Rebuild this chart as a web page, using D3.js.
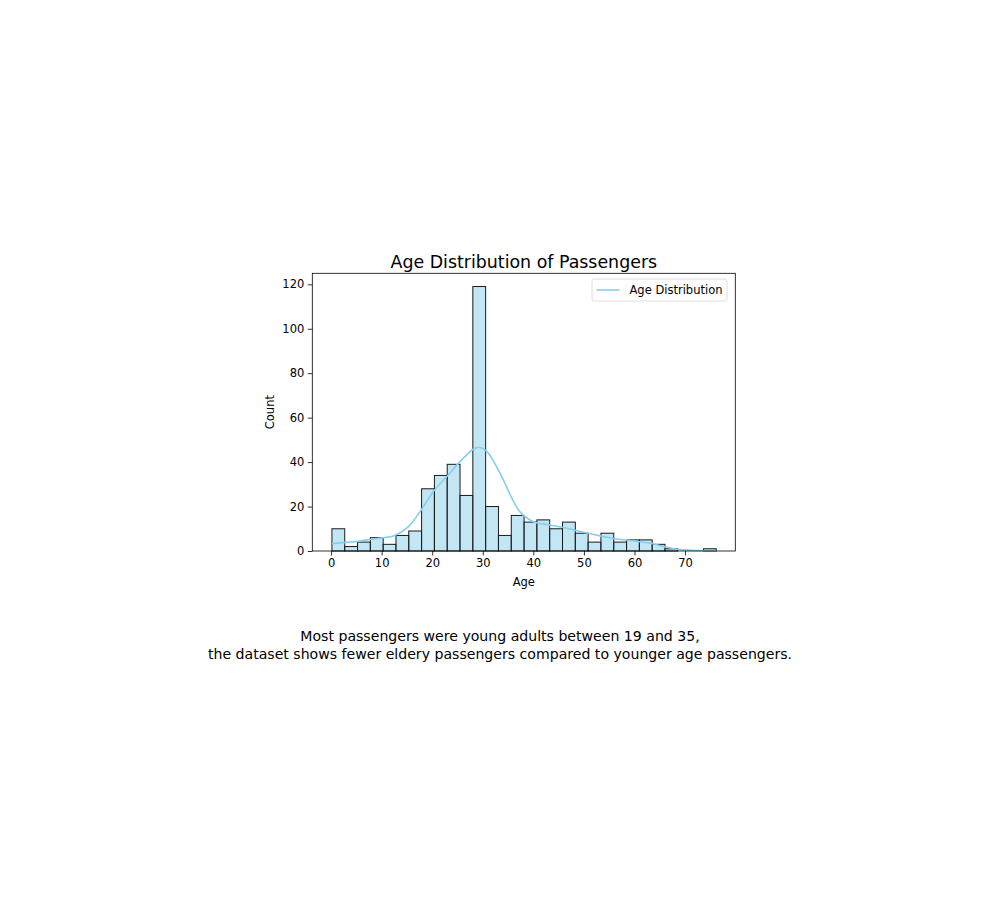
<!DOCTYPE html>
<html>
<head>
<meta charset="utf-8">
<script src="https://cdn.jsdelivr.net/npm/d3@7"></script>
<style>
  html, body { margin: 0; padding: 0; background: #fff; }
  svg { display: block; font-family: "DejaVu Sans", sans-serif; }
</style>
</head>
<body>
<svg id="chart" width="1000" height="914"></svg>
<script>
// ---- data ----
const binStart = 0.17;
const binWidth = 2.533;
const binCounts = [10, 2, 4, 6, 3, 7, 9, 28, 34, 39, 25, 119, 20, 7, 16,
                   13, 14, 10, 13, 8, 4, 8, 4, 5, 5, 3, 1, 0, 0, 1];
const kdeAge = [0.17, 2.8, 4.7, 7.1, 9.4, 12.6, 15.3, 17.6, 20.2, 22.9, 25.5, 28.1, 29.3,
                30.8, 33.4, 36.1, 37.4, 40, 43.3, 46.6, 49.9, 53.2, 56.5, 59.8, 63.1,
                66.4, 69.7, 73, 76.2];
const kdeCount = [3.3, 3.9, 4.2, 5.0, 5.7, 7.0, 11.0, 17.7, 26.7, 33.5, 40.2, 45.8, 46.7,
                  44.8, 35, 22.2, 17.5, 13.2, 11.7, 10.2, 8.4, 6.8, 5.4, 4.6, 3.5,
                  1.7, 0.5, 0.2, 0.1];
const xTicks = [0, 10, 20, 30, 40, 50, 60, 70];
const yTicks = [0, 20, 40, 60, 80, 100, 120];
const titleText = "Age Distribution of Passengers";
const xLabel = "Age";
const yLabel = "Count";
const legendLabel = "Age Distribution";
const captionLines = ["Most passengers were young adults between 19 and 35,",
                      "the dataset shows fewer eldery passengers compared to younger age passengers."];

// ---- layout ----
const plot = { left: 312.3, right: 735.3, top: 273.3, bottom: 551 };
const svg = d3.select("#chart");

const x = d3.scaleLinear().domain([-3.71, 79.93]).range([plot.left, plot.right]);
const y = d3.scaleLinear().domain([0, 124.95]).range([plot.bottom, plot.top]);

const bins = binCounts.map((c, i) => ({ x0: binStart + i * binWidth, x1: binStart + (i + 1) * binWidth, c }));

// bars
svg.append("g").selectAll("rect").data(bins.filter(d => d.c > 0)).join("rect")
  .attr("x", d => x(d.x0))
  .attr("width", d => x(d.x1) - x(d.x0))
  .attr("y", d => y(d.c))
  .attr("height", d => y(0) - y(d.c))
  .attr("fill", "rgba(135,206,235,0.5)")
  .attr("stroke", "#1a1a1a")
  .attr("stroke-width", 1);

// kde line
const kdePts = kdeAge.map((a, i) => [a, kdeCount[i]]);
svg.append("path")
  .datum(kdePts)
  .attr("fill", "none")
  .attr("stroke", "#87CEEB")
  .attr("stroke-width", 1.6)
  .attr("d", d3.line().x(d => x(d[0])).y(d => y(d[1])).curve(d3.curveCatmullRom.alpha(0.5)));

// axes
const fs = 11.5;
const xAxis = svg.append("g").attr("transform", `translate(0,${plot.bottom})`)
  .call(d3.axisBottom(x).tickValues(xTicks).tickSize(4.5).tickPadding(3.5).tickSizeOuter(0));
const yAxis = svg.append("g").attr("transform", `translate(${plot.left},0)`)
  .call(d3.axisLeft(y).tickValues(yTicks).tickSize(4.5).tickPadding(3.5).tickSizeOuter(0));
[xAxis, yAxis].forEach(g => {
  g.select(".domain").remove();
  g.selectAll(".tick line").attr("stroke", "#000").attr("stroke-width", 0.8);
  g.selectAll(".tick text").attr("font-size", fs).attr("fill", "#000")
    .attr("font-family", "DejaVu Sans, sans-serif");
});

// frame
svg.append("rect")
  .attr("x", plot.left).attr("y", plot.top)
  .attr("width", plot.right - plot.left).attr("height", plot.bottom - plot.top)
  .attr("fill", "none").attr("stroke", "#000").attr("stroke-width", 0.8);

// axis labels
svg.append("text").attr("x", (plot.left + plot.right) / 2).attr("y", 586)
  .attr("text-anchor", "middle").attr("font-size", fs).text(xLabel);
svg.append("text").attr("transform", `translate(274,${(plot.top + plot.bottom) / 2}) rotate(-90)`)
  .attr("text-anchor", "middle").attr("font-size", fs).text(yLabel);

// title
svg.append("text").attr("x", (plot.left + plot.right) / 2).attr("y", 267.5)
  .attr("text-anchor", "middle").attr("font-size", 17.4).text(titleText);

// legend
const lg = svg.append("g");
lg.append("rect").attr("x", 592).attr("y", 279).attr("width", 135).attr("height", 22)
  .attr("rx", 2.5).attr("fill", "#fff").attr("fill-opacity", 0.8)
  .attr("stroke", "#d6d6d6").attr("stroke-width", 0.8);
lg.append("line").attr("x1", 596.5).attr("x2", 619.5).attr("y1", 290).attr("y2", 290)
  .attr("stroke", "#87CEEB").attr("stroke-width", 1.6);
lg.append("text").attr("x", 629.5).attr("y", 294).attr("font-size", fs).text(legendLabel);

// caption
svg.append("g").selectAll("text").data(captionLines).join("text")
  .attr("x", 500).attr("y", (d, i) => 641 + i * 18)
  .attr("text-anchor", "middle").attr("font-size", 14.1).attr("fill", "#000")
  .text(d => d);
</script>
</body>
</html>
